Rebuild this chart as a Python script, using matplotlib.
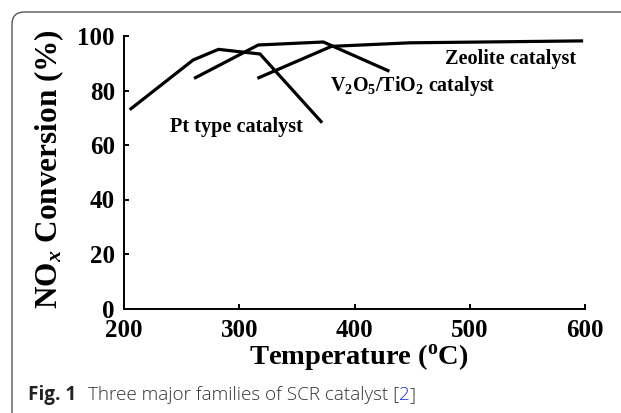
import matplotlib
matplotlib.use("Agg")
import matplotlib.pyplot as plt
from matplotlib.patches import FancyBboxPatch

# ---- data ----
pt_temp = [206, 260, 282, 318, 371]
pt_conv = [73.3, 91.2, 95.1, 93.4, 68.6]

v_temp = [262, 316.5, 373, 429]
v_conv = [84.7, 96.7, 97.8, 87.3]

zeo_temp = [317, 380, 448, 597]
zeo_conv = [84.7, 96.2, 97.5, 98.2]

x_ticks = [200, 300, 400, 500, 600]
y_ticks = [0, 20, 40, 60, 80, 100]

serif = "Liberation Serif"
plt.rcParams["font.family"] = serif
plt.rcParams["font.weight"] = "bold"
plt.rcParams["mathtext.fontset"] = "custom"
plt.rcParams["mathtext.rm"] = "Liberation Serif:bold"
plt.rcParams["mathtext.bf"] = "Liberation Serif:bold"
plt.rcParams["mathtext.it"] = "Liberation Serif:bold:italic"
plt.rcParams["mathtext.default"] = "rm"

W, H = 621, 413
fig = plt.figure(figsize=(W / 100, H / 100), dpi=100)
fig.patch.set_facecolor("white")

# border frame (rounded top-left corner, right/bottom off-image)
frame = FancyBboxPatch((12 / W, -30 / H), (W + 40 - 12) / W, (H - 12 + 30) / H,
                       boxstyle="round,pad=0,rounding_size=0.02",
                       transform=fig.transFigure, fill=False,
                       edgecolor="#555555", linewidth=1.0, mutation_aspect=W / H)
fig.add_artist(frame)

ax = fig.add_axes([124 / W, (H - 308.5) / H, (585 - 124) / W, (308.5 - 36) / H])
ax.plot(pt_temp, pt_conv, color="black", lw=2.3, solid_joinstyle="miter")
ax.plot(v_temp, v_conv, color="black", lw=2.3, solid_joinstyle="miter")
ax.plot(zeo_temp, zeo_conv, color="black", lw=2.3, solid_joinstyle="miter")

ax.set_xlim(200, 600)
ax.set_ylim(0, 100)
ax.set_xticks(x_ticks)
ax.set_yticks(y_ticks)
ax.spines["top"].set_visible(False)
ax.spines["right"].set_visible(False)
for s in ("left", "bottom"):
    ax.spines[s].set_linewidth(1.4)
ax.tick_params(axis="both", direction="in", length=3.5, width=1.4, labelsize=18)
ax.tick_params(axis="x", pad=7.5)
ax.tick_params(axis="y", pad=6.5)
for lab in ax.get_xticklabels() + ax.get_yticklabels():
    lab.set_fontweight("bold")

ax.text(240, 66.7, "Pt type catalyst", fontsize=14.6, ha="left", va="center")
ax.text(379, 81.5, "V$_2$O$_5$/TiO$_2$ catalyst", fontsize=14.4, ha="left", va="center")
ax.text(592, 91.4, "Zeolite catalyst", fontsize=14.6, ha="right", va="center")

fig.text(359 / W, (H - 363.5) / H, "Temperature ($^{\\rm o}$C)", fontsize=20.5,
         ha="center", va="baseline")
fig.text(49 / W, 1 - 169 / H, "NO$_{\\mathit{x}}$ Conversion (%)", fontsize=22.5,
         rotation=90, ha="center", va="center")

# caption
cap_y = (H - 400) / H
cap_fs = 13.6
t1 = fig.text(28 / W, cap_y, "Fig. 1", family="Open Sans", weight="bold",
              fontsize=cap_fs, color="#222222", va="baseline")
t2 = fig.text(88 / W, cap_y, "Three major families of SCR catalyst [",
              family="Open Sans", weight="light", fontsize=cap_fs, color="#333333",
              va="baseline")
fig.canvas.draw()
r = fig.canvas.get_renderer()
bb = t2.get_window_extent(r)
t3 = fig.text(bb.x1 / W, cap_y, "2", family="Open Sans", weight="light",
              fontsize=cap_fs, color="#2233dd", va="baseline")
bb3 = t3.get_window_extent(r)
fig.text(bb3.x1 / W, cap_y, "]", family="Open Sans", weight="light",
         fontsize=cap_fs, color="#333333", va="baseline")

fig.savefig("out.png", dpi=100)
